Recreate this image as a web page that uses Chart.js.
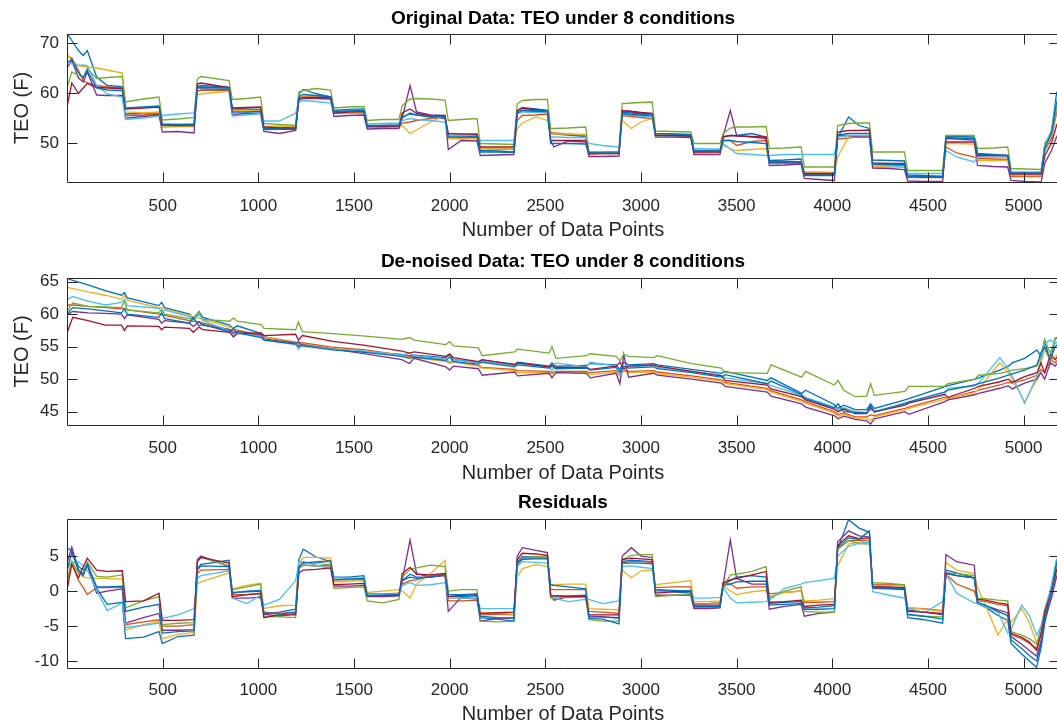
<!DOCTYPE html>
<html><head><meta charset="utf-8">
<script src="https://cdn.jsdelivr.net/npm/chart.js@4.4.1/dist/chart.umd.min.js"></script>
<style>
html,body{margin:0;padding:0;background:#fff;overflow:hidden;width:1057px;height:728px;}
.wrap{position:absolute;left:0;}
canvas{display:block;}
#msg{position:absolute;left:300px;top:300px;color:red;font:14px sans-serif;}
</style></head><body>
<div class="wrap" style="top:0"><canvas id="c1" width="1070" height="243"></canvas></div>
<div class="wrap" style="top:243px"><canvas id="c2" width="1070" height="242"></canvas></div>
<div class="wrap" style="top:485px"><canvas id="c3" width="1070" height="243"></canvas></div>
<div id="msg"></div>
<script>
// ---------- tick labels ----------
const xTickValues = [500,1000,1500,2000,2500,3000,3500,4000,4500,5000];
const origYTicks = [50,60,70];
const denYTicks = [45,50,55,60,65];
const resYTicks = [-10,-5,0,5];
const seriesNames = ['Condition 1','Condition 2','Condition 3','Condition 4','Condition 5','Condition 6','Condition 7','Condition 8'];
const seriesColors = ['#0072BD','#D95319','#EDB120','#7E2F8E','#77AC30','#4DBEEE','#A2142F','#0072BD'];

// ---------- Original data ----------
const origX = [0,25,60,85,106,155,210,289, 306,400,481, 498,580,664, 681,700,847, 864,940,1012,
 1029,1110,1195, 1212,1235,1300,1378, 1395,1470,1552, 1569,1650,1735, 1752,1793,1827,1900,1976,
 1993,2060,2143, 2160,2250,2336, 2353,2380,2450,2511, 2528,2545,2620,2711, 2728,2800,2885,
 2902,2950,3000,3059, 3076,3170,3260, 3277,3350,3413, 3430,3467,3500,3580,3654, 3671,3750,3837,
 3854,3930,4011, 4028,4085,4140,4194, 4211,4300,4377, 4394,4480,4577, 4594,4650,4742,
 4759,4840,4917, 4934,5010,5092, 5111,5146,5172,5185];

const origC1 = [71.9,70.5,68.5,67.5,68.5,63.2,61.5,61.3, 55.8,55.9,56.0, 53.5,53.7,53.8, 61.3,61.5,61.2,
 56.9,56.8,56.7, 52.9,52.9,52.9, 59.8,60.7,59.9,59.2, 56.5,56.7,56.8, 53.5,53.5,53.6,
 55.0,56.0,55.6,55.2,54.9, 51.5,51.5,51.6, 48.5,48.4,48.2, 56.5,57.1,56.8,56.5, 51.9,51.8,51.6,51.3,
 48.0,48.1,48.2, 56.2,56.0,55.8,55.5, 51.6,51.5,51.4, 48.5,48.5,48.5, 51.2,51.5,51.5,51.9,51.2,
 46.5,46.6,46.8, 43.7,43.7,43.7, 51.0,55.2,53.5,52.9, 46.6,46.5,46.4, 43.6,43.5,43.3, 51.4,51.3,51.2,
 47.9,47.7,47.5, 43.9,43.9,43.9, 49.5,52.5,59.9,61.0];
const origC2 = [67.5,67.0,64.5,62.5,62.0,61.5,61.2,61.0, 55.5,55.6,55.8, 53.5,53.4,53.4, 60.4,60.6,60.5,
 56.8,56.7,56.6, 53.2,53.2,53.1, 59.2,59.3,59.2,59.0, 55.9,56.0,56.0, 53.2,53.2,53.3,
 54.0,54.2,54.5,54.9,55.2, 50.9,51.0,51.1, 48.9,48.8,48.8, 54.5,55.5,55.6,55.8, 52.2,52.0,51.8,51.5,
 47.8,47.9,47.9, 55.5,55.3,55.1,54.9, 51.7,51.6,51.5, 48.3,48.3,48.4, 50.5,50.5,49.5,50.3,50.5,
 46.3,46.2,46.2, 43.9,43.9,43.9, 50.8,51.0,51.3,51.5, 45.7,45.6,45.6, 43.1,43.1,43.1, 49.2,48.0,47.2,
 46.9,46.8,46.7, 43.3,43.3,43.3, 48.5,51.0,56.0,57.0];
const origC3 = [67.9,66.5,65.5,65.3,65.2,65.0,64.6,64.0, 56.2,56.0,56.2, 53.1,53.3,53.3, 59.7,59.8,60.4,
 56.5,56.5,56.4, 53.3,53.4,53.2, 59.0,59.3,59.4,59.2, 56.1,56.0,56.1, 53.1,53.2,53.2,
 53.5,51.9,52.6,54.2,55.5, 50.9,50.8,50.9, 48.9,48.9,48.9, 52.9,54.0,55.2,54.5, 51.9,51.8,51.8,51.7,
 48.2,48.2,48.2, 54.5,52.9,54.2,54.9, 51.8,51.8,51.6, 48.0,48.1,48.1, 49.5,48.9,48.5,48.7,48.9,
 46.3,46.2,46.2, 44.2,44.2,44.1, 47.2,51.2,51.3,51.5, 45.3,45.2,45.2, 43.3,43.2,43.2, 49.9,49.9,49.8,
 46.5,46.5,46.5, 43.5,43.5,43.5, 49.0,51.5,57.0,58.0];
const origC4 = [65.0,66.5,63.0,62.2,64.2,59.6,59.5,59.5, 55.0,55.3,55.6, 52.2,52.3,52.0, 61.3,60.9,60.7,
 55.7,55.9,55.9, 52.3,51.9,52.5, 58.6,58.9,58.9,58.8, 55.3,55.5,55.6, 52.8,52.9,52.9,
 55.0,61.5,56.2,55.6,55.5, 48.7,50.5,50.4, 47.5,47.6,47.7, 56.0,56.5,56.3,56.2, 50.5,49.2,50.4,50.2,
 47.3,47.3,47.4, 56.5,56.3,56.0,55.9, 51.2,51.2,51.1, 47.7,47.7,47.7, 51.5,56.5,51.5,51.2,50.9,
 45.5,45.6,45.8, 42.9,42.7,42.5, 51.5,51.5,51.2,51.2, 45.0,44.9,44.7, 42.4,42.3,42.3, 50.9,50.8,50.6,
 45.5,45.3,45.2, 42.5,42.3,42.2, 46.0,48.5,51.2,52.0];
const origC5 = [61.0,64.2,63.5,63.2,64.9,62.9,63.1,63.3, 58.2,58.8,59.2, 54.6,54.8,55.1, 62.8,63.3,62.5,
 58.7,58.9,59.2, 53.9,53.7,53.5, 60.2,60.5,60.9,60.6, 57.0,57.2,57.3, 54.5,54.7,54.7,
 57.5,58.8,58.9,58.8,58.6, 54.5,54.7,54.9, 49.9,49.8,49.7, 57.8,58.5,58.7,58.7, 52.9,52.9,53.0,53.2,
 48.2,48.2,48.3, 57.9,58.0,58.1,58.2, 52.4,52.3,52.2, 49.9,49.9,49.9, 51.9,53.0,53.2,53.2,53.3,
 48.9,49.0,49.2, 45.2,45.2,45.2, 53.5,53.9,54.0,54.0, 48.2,48.2,48.2, 44.5,44.5,44.5, 51.5,51.5,51.5,
 48.9,49.0,49.2, 44.9,44.8,44.7, 50.0,52.0,57.0,58.0];
const origC6 = [66.2,65.8,65.5,65.6,65.5,61.5,59.8,59.2, 54.7,55.0,55.4, 55.5,55.8,56.0, 60.9,61.1,60.9,
 55.4,55.6,55.9, 54.4,54.4,56.0, 58.3,58.5,58.3,58.0, 56.2,56.5,56.6, 53.8,53.9,54.0,
 54.5,54.9,54.7,54.5,54.2, 51.5,51.5,51.4, 50.5,50.5,50.5, 55.8,56.2,56.1,56.0, 51.2,51.2,51.1,51.1,
 49.9,49.5,49.2, 55.9,55.6,55.4,55.2, 51.4,51.5,51.5, 48.9,48.8,48.8, 49.9,48.8,47.9,47.7,47.5,
 47.5,47.7,47.7, 47.7,47.7,47.7, 51.2,51.5,51.5,51.5, 45.7,45.5,45.2, 43.9,43.9,43.9, 48.5,47.2,46.2,
 47.2,47.2,47.2, 44.2,44.2,44.2, 49.5,52.5,58.5,59.5];
const origC7 = [57.2,62.0,59.9,61.0,61.9,61.1,61.0,60.9, 56.8,57.0,57.2, 53.6,53.5,53.5, 61.8,62.0,61.1,
 57.0,57.1,57.2, 53.2,53.0,53.0, 58.8,59.1,59.1,59.2, 56.0,56.2,56.3, 53.3,53.3,53.4,
 56.0,56.8,55.9,55.4,55.4, 51.9,51.8,51.8, 49.2,49.2,49.2, 56.4,56.9,56.7,56.5, 50.5,50.5,50.5,50.5,
 47.9,47.9,47.9, 56.5,56.3,56.1,55.9, 51.5,51.5,51.4, 48.2,48.2,48.2, 51.3,51.5,51.4,51.3,51.2,
 46.2,46.2,46.2, 43.9,43.9,43.9, 52.2,52.5,52.5,52.6, 46.0,45.9,45.9, 43.3,43.2,43.2, 50.2,50.2,50.2,
 47.5,47.5,47.5, 43.8,43.8,43.8, 47.5,50.0,53.5,54.5];
const origC8 = [66.0,66.8,64.0,63.0,64.5,61.0,60.6,60.5, 57.0,57.2,57.4, 53.8,53.7,53.6, 61.0,61.2,61.0,
 56.2,56.2,56.3, 52.7,52.8,52.7, 59.3,59.7,59.5,59.3, 56.2,56.4,56.5, 53.4,53.5,53.5,
 55.2,55.8,55.6,55.4,55.2, 51.2,51.2,51.3, 48.2,48.2,48.1, 56.0,56.5,56.5,56.5, 49.9,49.9,49.9,49.8,
 48.0,48.0,48.0, 55.9,55.7,55.6,55.5, 51.9,51.8,51.7, 48.4,48.4,48.4, 50.5,50.5,50.3,50.1,49.9,
 46.0,46.0,46.0, 43.5,43.5,43.5, 51.6,51.9,51.9,51.9, 45.8,45.7,45.7, 43.3,43.3,43.3, 51.1,51.0,50.9,
 47.7,47.6,47.5, 44.0,44.0,44.0, 49.0,52.0,58.0,59.0];

// ---------- De-noised data ----------
const denX = [0,30,110,200,285,300,315,480,495,510, 640,660,690,710,850,870,890,1015,1030,1195,
 1210,1230,1390,1560,1750,1790,1815,1980,2000,2020, 2150,2170,2340,2355,2520,2535,2555,2715,2735,2870,
 2890,2910,2935,3065,3085,3265,3420,3440,3660,3680, 3840,3860,4010,4030,4060,4120,4180,4200,4220,4380,
 4400,4585,4605,4745,4765,4876,4920,4940,5005,5070, 5090,5110,5140,5165,5185];

const denC1 = [65.5,65.2,64.5,63.6,62.9,63.3,62.5,61.3,61.8,61.0, 60.0,59.3,60.4,59.5,58.3,57.8,58.2,57.0,56.5,55.6,
 55.0,55.4,54.6,54.2,53.8,53.6,53.7,53.3,53.8,53.0, 52.6,52.9,52.3,52.6,52.0,52.5,52.0,52.1,52.4,52.2,
 51.5,52.6,52.2,52.4,52.2,51.5,50.9,51.2,49.8,50.2, 47.8,48.3,46.1,45.5,46.0,45.3,45.3,46.2,45.5,46.8,
 47.0,48.8,49.0,50.0,50.2,51.4,52.0,52.5,53.2,54.5, 53.5,56.0,52.5,56.3,56.5];
const denC2 = [61.4,61.4,61.2,61.0,60.8,60.9,60.7,60.0,60.0,59.8, 59.0,58.9,58.8,58.6,57.6,57.4,57.3,56.6,56.5,55.7,
 55.5,55.6,54.9,54.5,53.7,53.5,53.4,52.8,52.5,52.7, 52.1,51.8,51.5,51.3,51.2,51.0,51.2,51.2,51.0,51.3,
 51.0,51.4,51.2,51.3,51.1,50.5,49.9,49.5,48.6,48.2, 46.8,46.5,45.0,44.6,44.8,44.2,44.2,44.5,44.4,45.5,
 45.7,47.2,47.0,48.1,48.3,49.1,49.5,49.4,49.9,50.6, 51.5,51.0,53.0,52.5,53.2];
const denC3 = [64.1,63.9,63.4,62.9,62.3,62.9,62.1,61.0,61.0,60.8, 59.8,59.6,59.4,59.2,58.0,57.8,57.6,56.7,56.5,55.5,
 55.3,55.4,54.7,54.3,53.6,53.3,53.3,52.7,52.4,52.6, 52.0,51.7,51.3,51.0,51.0,50.8,51.0,51.0,50.7,51.1,
 50.4,51.2,51.0,51.1,50.8,50.3,49.7,49.3,48.4,48.0, 46.6,46.3,44.8,44.3,44.6,44.0,44.0,43.6,44.2,45.3,
 45.5,46.9,47.1,47.9,48.5,52.5,51.0,50.0,46.5,50.0, 52.5,54.5,52.8,53.5,54.0];
const denC4 = [59.9,60.4,60.2,60.1,60.0,59.3,59.9,59.2,58.6,59.0, 58.6,58.1,58.8,58.3,57.6,57.0,57.4,56.8,56.2,55.5,
 55.0,55.3,54.6,53.9,53.0,52.4,53.2,51.9,51.4,52.0, 51.6,50.6,51.1,50.5,50.9,50.2,51.0,50.9,50.2,50.9,
 49.3,53.8,50.3,50.9,50.6,50.0,49.4,48.9,48.0,47.4, 46.2,45.7,44.4,43.9,44.3,43.8,43.6,43.1,43.9,45.0,
 44.6,46.5,46.8,47.6,47.8,48.6,49.0,48.5,49.4,50.0, 51.0,50.0,52.5,52.0,52.8];
const denC5 = [60.4,61.7,61.2,61.1,61.0,62.0,60.6,60.2,60.7,60.0, 59.3,59.1,60.3,59.2,58.9,59.4,58.9,58.4,57.8,57.6,
 58.8,57.3,57.0,56.6,56.1,56.4,56.0,55.3,55.8,55.1, 54.8,53.6,54.2,54.6,54.0,55.0,53.2,53.6,53.9,53.5,
 52.8,53.8,53.5,53.3,53.6,52.4,51.7,51.0,50.9,52.2, 50.3,51.2,49.1,49.8,48.3,47.3,47.4,49.3,47.5,48.1,
 48.9,48.9,49.3,50.0,50.6,50.9,51.2,51.4,51.6,52.0, 53.3,56.0,54.0,56.2,56.3];
const denC6 = [62.2,62.7,62.0,61.4,61.8,62.3,61.3,60.9,60.4,60.6, 59.6,59.0,60.0,59.0,57.4,56.5,57.2,56.5,56.0,55.3,
 54.6,55.2,54.6,54.3,53.7,54.0,53.6,53.1,52.6,53.0, 52.5,52.8,52.1,52.4,51.8,51.3,52.5,51.9,52.6,52.0,
 50.5,51.5,51.9,52.1,51.8,51.2,50.6,50.2,49.3,49.0, 47.5,47.2,45.7,45.2,45.6,45.0,44.9,45.3,45.1,46.2,
 46.4,47.5,48.6,49.0,49.4,53.3,51.5,50.5,46.3,50.5, 52.5,55.5,56.0,55.5,55.8];
const denC7 = [57.1,59.5,59.0,58.3,58.3,57.5,58.2,58.1,57.6,58.0, 57.8,57.2,58.0,57.6,57.2,56.5,57.0,57.1,56.7,56.9,
 56.0,56.7,55.8,55.2,54.3,54.0,54.2,53.5,53.9,53.3, 52.7,53.0,52.2,52.5,51.9,52.2,51.8,51.8,51.5,52.0,
 52.6,51.6,52.0,52.2,52.0,51.2,50.5,49.8,49.1,48.5, 47.3,46.8,45.4,45.0,45.4,44.7,44.7,45.6,45.0,46.0,
 46.3,47.7,47.2,48.6,48.9,49.6,50.0,49.5,50.4,51.0, 52.5,51.0,53.8,53.0,53.8];
const denC8 = [60.0,61.0,60.8,60.5,60.2,60.8,60.0,59.5,60.2,59.3, 58.6,59.5,58.2,58.4,57.3,57.8,57.1,56.4,56.0,55.4,
 55.8,55.1,54.5,54.1,53.5,53.2,53.4,52.9,53.4,52.7, 52.3,52.6,51.9,52.2,51.7,52.0,51.6,51.7,51.4,51.8,
 51.1,52.0,51.7,51.9,51.6,51.0,50.3,50.7,49.3,49.7, 47.6,47.0,45.6,46.2,45.0,44.9,44.8,46.0,44.9,46.3,
 46.5,48.0,48.3,49.1,49.3,50.2,50.6,50.8,51.4,52.2, 54.0,55.0,53.0,55.0,55.5];

// ---------- Residuals ----------
const resX = [0,25,60,85,106,155,210,289, 306,400,481, 498,580,664, 681,700,847, 864,940,1012,
 1029,1110,1195, 1212,1235,1300,1378, 1395,1470,1552, 1569,1650,1735, 1752,1793,1827,1900,1976,
 1993,2060,2143, 2160,2250,2336, 2353,2380,2450,2511, 2528,2545,2620,2711, 2728,2800,2885,
 2902,2950,3000,3059, 3076,3170,3260, 3277,3350,3413, 3430,3467,3500,3580,3654, 3671,3750,3837,
 3854,3930,4011, 4028,4085,4140,4194, 4211,4300,4377, 4394,4480,4577, 4594,4650,4742,
 4759,4800,4866,4917, 4934,4990,5030,5068,5092, 5111,5146,5172,5185];

const resC1 = [6.2,5.7,3.5,3.0,4.0,0.4,-1.9,-1.6, -6.8,-6.6,-5.8, -7.5,-6.5,-6.3, 3.2,3.8,4.4,
 -0.3,0.0,0.1, -3.2,-3.0,-2.6, 4.5,6.0,4.9,4.2, 2.0,2.0,2.2, -0.6,-0.6,-0.5,
 1.5,2.4,2.0,2.0,2.5, -0.8,-0.8,-0.7, -3.6,-3.8,-3.9, 4.2,4.9,4.9,4.9, -0.7,-0.7,-0.7,-0.6,
 -3.6,-3.7,-3.9, 4.2,4.4,4.3,4.2, 0.2,-0.1,-0.3, -2.2,-2.2,-2.2, 1.0,1.5,2.0,2.2,2.0,
 -1.8,-1.6,-1.5, -2.4,-2.3,-2.1, 6.0,10.2,9.0,8.4, 0.7,0.5,0.3, -3.8,-4.1,-4.6, 3.0,2.6,1.9,
 -1.8,-2.3,-3.5,-4.2, -7.5,-9.0,-10.0,-10.9,-8.0, -4.5,-0.5,4.4,5.0];
const resC2 = [1.5,4.0,1.5,0.5,-0.5,0.5,0.5,0.5, -4.8,-4.4,-4.1, -5.0,-5.0,-4.8, 2.5,3.0,3.1,
 -0.5,-0.5,-0.4, -3.0,-3.2,-3.0, 3.6,4.0,4.2,4.3, 1.6,1.6,1.7, -0.4,-0.4,-0.3,
 1.0,1.5,1.6,2.2,2.4, -1.4,-1.4,-1.3, -3.4,-3.3,-3.4, 3.8,4.5,4.7,4.7, 0.2,0.2,0.2,0.2,
 -2.9,-3.0,-3.2, 4.0,4.2,4.2,4.1, 0.5,0.6,0.6, -1.8,-1.8,-1.7, 1.2,1.0,0.4,0.6,0.6,
 -0.4,-0.2,0.0, -1.6,-1.6,-1.5, 6.0,7.2,7.3,7.2, 1.0,0.9,0.9, -2.4,-2.5,-2.8, 2.4,1.0,0.0,
 -1.4,-1.5,-1.9,-2.1, -6.2,-6.8,-7.5,-8.2,-6.0, -3.2,-0.2,2.8,3.4];
const resC3 = [3.0,4.2,2.5,2.0,1.9,1.8,1.8,1.7, -5.6,-4.8,-4.4, -6.8,-6.2,-5.9, 1.0,1.3,2.6,
 0.3,0.8,1.1, -2.5,-2.1,-2.0, 4.0,4.8,4.8,4.7, 1.3,1.4,1.5, -0.2,0.0,0.2,
 0.0,-1.0,1.0,2.5,4.4, -1.0,-1.0,-1.1, -3.1,-3.2,-3.3, 2.0,3.2,3.8,3.5, 0.9,0.9,1.0,1.0,
 -2.5,-2.6,-2.7, 3.0,1.9,2.9,3.0, 0.9,1.2,1.5, -1.5,-1.5,-1.4, 0.8,0.0,-0.5,-0.1,0.1,
 -0.8,-0.2,0.0, -1.4,-1.3,-1.1, 3.6,6.7,7.0,7.2, 0.8,0.8,0.7, -2.4,-2.6,-2.9, 4.1,3.0,2.5,
 0.5,-2.0,-6.3,-4.0, -4.5,-2.5,-4.5,-7.5,-6.0, -4.0,-0.5,2.5,3.2];
const resC4 = [4.0,6.3,3.0,2.5,3.7,-0.3,0.0,0.3, -4.6,-3.8,-3.2, -5.6,-5.6,-5.5, 4.5,5.0,3.5,
 -1.0,-1.0,-0.9, -3.3,-3.6,-3.2, 3.3,3.7,3.6,3.6, 0.7,0.7,0.8, -0.8,-0.8,-0.7,
 1.5,7.3,2.5,2.0,2.2, -2.9,-0.9,-1.1, -4.3,-3.9,-3.8, 5.0,6.2,5.8,5.5, -0.5,-1.3,-0.8,-0.8,
 -3.7,-3.7,-3.8, 5.0,6.2,5.0,4.8, -0.6,-0.6,-0.6, -2.5,-2.5,-2.4, 1.0,7.3,1.8,1.0,1.0,
 -2.6,-2.2,-1.9, -3.6,-3.2,-3.0, 7.0,8.6,7.9,7.7, 0.4,0.3,0.2, -2.7,-3.0,-3.4, 5.2,4.2,3.7,
 -1.8,-2.1,-2.7,-3.1, -6.5,-7.6,-8.5,-9.3,-7.0, -4.0,-1.0,2.0,2.8];
const resC5 = [1.3,4.3,2.6,2.3,4.2,2.1,2.0,2.3, -2.4,-1.4,-0.8, -4.8,-4.6,-4.5, 4.2,4.8,3.6,
 0.2,0.6,1.0, -3.6,-3.7,-3.8, 3.2,3.7,3.6,3.9, 0.4,0.5,0.6, -1.4,-1.7,-1.2,
 2.0,3.1,3.3,3.7,3.5, 0.0,0.2,0.2, -4.3,-4.4,-4.3, 4.0,4.8,4.9,5.0, -1.0,-1.0,-0.9,-0.8,
 -4.1,-4.3,-4.3, 4.5,5.1,5.2,5.2, -0.8,-0.6,-0.5, -1.8,-1.8,-1.7, 0.5,2.3,2.4,2.8,3.5,
 -1.0,0.0,0.6, -2.9,-3.0,-3.0, 6.0,7.2,6.8,6.7, 1.2,1.1,0.9, -3.4,-3.6,-3.7, 2.6,2.5,2.2,
 -1.0,-1.1,-1.3,-1.4, -5.8,-6.3,-6.8,-7.6,-5.0, -2.5,0.5,3.5,4.0];
const resC6 = [3.7,4.0,4.2,3.6,3.0,0.1,-2.8,-1.7, -5.2,-4.9,-4.6, -3.9,-3.4,-2.5, 1.8,2.2,2.9,
 -1.0,-1.8,-0.6, -2.0,-1.2,1.5, 4.1,4.2,3.7,3.2, 1.9,1.8,1.9, -0.5,-0.5,-0.4,
 0.8,1.2,0.8,0.9,1.2, -1.0,-1.0,-1.0, -2.5,-2.5,-2.5, 3.5,4.2,4.1,4.0, -0.6,-1.0,-1.5,-1.2,
 -1.2,-1.8,-1.4, 3.5,3.6,3.4,3.2, -0.1,0.0,0.1, -1.0,-1.0,-0.9, 0.5,-1.0,-1.7,-1.6,-1.5,
 -1.3,0.4,1.0, 1.2,1.5,1.8, 5.0,6.4,6.8,7.0, -0.1,-0.6,-1.0, -2.4,-3.1,-1.5, 2.5,-0.3,-1.7,
 -1.8,-2.2,-3.0,-6.0, -5.5,-2.0,-3.5,-6.3,-5.0, -3.0,1.0,4.5,5.0];
const resC7 = [0.1,3.8,1.9,3.5,4.7,3.0,2.8,2.9, -1.5,-1.4,-0.3, -4.2,-4.2,-4.1, 4.2,4.8,4.0,
 -0.8,-0.5,-0.3, -3.8,-3.4,-3.4, 2.6,3.0,3.1,3.3, 0.9,1.0,1.1, -0.7,-0.7,-0.6,
 2.5,3.4,2.4,2.3,2.5, -0.8,-0.6,-0.5, -3.2,-3.1,-3.0, 4.5,5.4,5.3,5.1, -0.7,-0.7,-0.8,-0.8,
 -3.4,-3.4,-3.4, 4.5,4.7,4.6,4.5, -0.3,-0.1,0.0, -2.0,-2.0,-2.0, 1.2,1.6,1.8,2.3,2.8,
 -1.6,-1.5,-1.3, -2.2,-2.0,-1.9, 6.5,7.9,7.5,7.6, 0.6,0.6,0.5, -2.9,-3.0,-3.2, 2.5,2.2,1.9,
 -1.2,-1.3,-1.7,-1.9, -6.0,-6.6,-7.3,-8.5,-6.0, -3.0,0.0,3.0,3.6];
const resC8 = [3.0,5.5,3.0,2.2,3.8,0.6,0.6,0.7, -2.9,-2.3,-1.9, -6.0,-5.8,-5.7, 3.0,3.6,3.5,
 -0.2,-0.1,0.0, -3.1,-3.3,-3.0, 3.5,4.1,4.0,4.3, 1.6,1.7,1.8, -0.7,-0.6,-0.5,
 1.5,2.0,1.8,2.0,2.3, -0.5,-0.5,-0.4, -3.8,-4.0,-4.3, 4.0,4.6,4.6,4.6, 0.9,0.8,0.6,0.3,
 -3.9,-4.0,-4.7, 4.0,4.0,4.0,3.9, 0.2,0.1,0.0, -2.3,-2.3,-2.3, 0.8,1.0,1.3,1.4,1.4,
 -2.0,-1.9,-1.8, -2.6,-2.6,-2.5, 6.2,7.6,7.4,8.6, 0.5,0.4,0.3, -3.3,-3.6,-4.0, 2.6,2.2,1.9,
 -1.6,-2.0,-2.9,-3.5, -7.0,-8.2,-9.2,-10.0,-7.5, -4.0,0.0,4.0,4.8];

// ---------- drawing ----------
const FONT = '"Liberation Sans", Arial, Helvetica, sans-serif';
const AXIS_COLOR = '#262626';

const matlabBox = {
  id: 'matlabBox',
  afterDatasetsDraw(chart, args, opts) {
    const {ctx, chartArea: a, scales: {x, y}} = chart;
    ctx.save();
    ctx.strokeStyle = AXIS_COLOR;
    ctx.lineWidth = 1;
    const L = Math.round(a.left) + 0.5, R = Math.round(a.right) + 0.5;
    const T = Math.round(a.top) + 0.5, B = Math.round(a.bottom) + 0.5;
    ctx.beginPath();
    ctx.rect(L, T, R - L, B - T);
    const tl = 10;
    x.ticks.forEach(t => {
      const p = Math.round(x.getPixelForValue(t.value)) + 0.5;
      ctx.moveTo(p, B); ctx.lineTo(p, B - tl);
      ctx.moveTo(p, T); ctx.lineTo(p, T + tl);
    });
    y.ticks.forEach(t => {
      const p = Math.round(y.getPixelForValue(t.value)) + 0.5;
      ctx.moveTo(L, p); ctx.lineTo(L + tl, p);
      ctx.moveTo(R, p); ctx.lineTo(R - tl, p);
    });
    ctx.stroke();
    ctx.fillStyle = '#000';
    ctx.font = 'bold 19px ' + FONT;
    ctx.textAlign = 'center';
    ctx.textBaseline = 'middle';
    ctx.fillText(opts.title, (a.left + a.right) / 2, opts.titleY);
    ctx.restore();
  }
};

function makeChart(id, xs, seriesList, cfg) {
  const canvas = document.getElementById(id);
  const H = canvas.height;
  const datasets = seriesList.map((vals, i) => ({
    label: seriesNames[i],
    data: xs.map((xv, k) => ({x: xv, y: vals[k]})),
    borderColor: seriesColors[i],
    backgroundColor: seriesColors[i],
    borderWidth: 1.3,
    pointRadius: 0,
    tension: 0,
    fill: false,
    clip: 0,
    order: seriesList.length - i
  }));
  return new Chart(canvas, {
    type: 'line',
    data: {datasets},
    plugins: [matlabBox],
    options: {
      responsive: false,
      animation: false,
      devicePixelRatio: 1,
      events: [],
      layout: {padding: {top: cfg.padTop, right: 11, left: 0, bottom: 0}},
      plugins: {
        legend: {display: false},
        tooltip: {enabled: false},
        matlabBox: {title: cfg.title, titleY: cfg.titleY}
      },
      scales: {
        x: {
          type: 'linear', min: 0, max: 5185,
          afterBuildTicks: s => { s.ticks = xTickValues.map(v => ({value: v})); },
          afterFit: s => { s.height = H - cfg.areaBottom; },
          grid: {display: false, drawTicks: false},
          border: {display: false},
          ticks: {font: {family: FONT, size: 17}, color: AXIS_COLOR, padding: cfg.xTickPad,
                  maxRotation: 0, autoSkip: false, callback: v => String(v)},
          title: {display: true, text: 'Number of Data Points', color: AXIS_COLOR,
                  font: {family: FONT, size: 20}, padding: {top: 0, bottom: cfg.xTitlePad}}
        },
        y: {
          type: 'linear', min: cfg.yMin, max: cfg.yMax,
          afterBuildTicks: s => { s.ticks = cfg.yTicks.map(v => ({value: v})); },
          afterFit: s => { s.width = 67; },
          grid: {display: false, drawTicks: false},
          border: {display: false},
          ticks: {font: {family: FONT, size: 17}, color: AXIS_COLOR, padding: 8,
                  autoSkip: false, callback: v => String(v)},
          title: {display: !!cfg.yLabel, text: cfg.yLabel || '', color: AXIS_COLOR,
                  font: {family: FONT, size: 20}, padding: {top: 10, bottom: 0}}
        }
      }
    }
  });
}

// sanity check of array lengths
const checks = [[origX,[origC1,origC2,origC3,origC4,origC5,origC6,origC7,origC8],'orig'],
  [denX,[denC1,denC2,denC3,denC4,denC5,denC6,denC7,denC8],'den'],
  [resX,[resC1,resC2,resC3,resC4,resC5,resC6,resC7,resC8],'res']];
let msg = '';
checks.forEach(([xs, ss, n]) => ss.forEach((s, i) => { if (s.length !== xs.length) msg += n + (i+1) + ':' + s.length + '/' + xs.length + ' '; }));
document.getElementById('msg').textContent = msg;

makeChart('c1', origX, [origC1,origC2,origC3,origC4,origC5,origC6,origC7,origC8],
  {padTop: 34, areaBottom: 182, xTickPad: 14, xTitlePad: 1, yMin: 42.2, yMax: 71.8, yTicks: origYTicks,
   yLabel: 'TEO (F)', title: 'Original Data: TEO under 8 conditions', titleY: 18.5});
makeChart('c2', denX, [denC1,denC2,denC3,denC4,denC5,denC6,denC7,denC8],
  {padTop: 35, areaBottom: 182, xTickPad: 13, xTitlePad: 0, yMin: 42.95, yMax: 65.55, yTicks: denYTicks,
   yLabel: 'TEO (F)', title: 'De-noised Data: TEO under 8 conditions', titleY: 19});
makeChart('c3', resX, [resC1,resC2,resC3,resC4,resC5,resC6,resC7,resC8],
  {padTop: 34, areaBottom: 183, xTickPad: 12, xTitlePad: 2, yMin: -11.0, yMax: 10.3, yTicks: resYTicks,
   yLabel: '', title: 'Residuals', titleY: 18});
</script>
</body></html>
